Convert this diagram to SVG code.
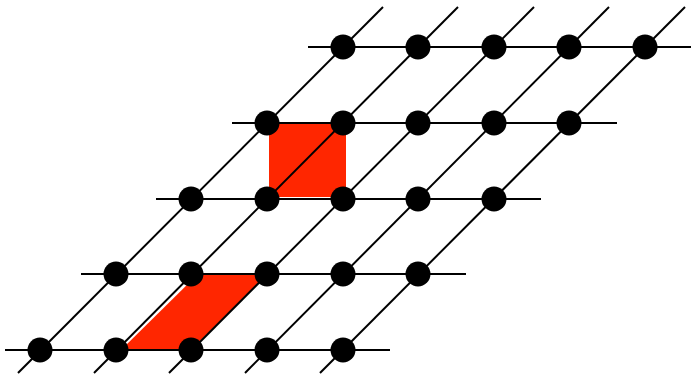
<svg xmlns="http://www.w3.org/2000/svg" width="691" height="375" viewBox="0 0 691 375">
<style>
.ln{stroke:#000;stroke-width:2;fill:none}
.dot{fill:#000}
.red{fill:#ff2600;stroke:none}
</style>
<rect width="691" height="375" fill="#fff"/>
<g id="cells">
<rect class="red" x="269" y="122" width="77" height="75"/>
<polygon class="red" points="122,349 192,349 267,274 198,274"/>
</g>
<g id="connectors">
<line class="ln" x1="5" y1="350" x2="390" y2="350"/>
<line class="ln" x1="81" y1="274" x2="466" y2="274"/>
<line class="ln" x1="156" y1="199" x2="541" y2="199"/>
<line class="ln" x1="232" y1="123" x2="617" y2="123"/>
<line class="ln" x1="308" y1="47" x2="691" y2="47"/>
<line class="ln" x1="18" y1="373" x2="383" y2="7"/>
<line class="ln" x1="94" y1="373" x2="458" y2="7"/>
<line class="ln" x1="169" y1="373" x2="534" y2="7"/>
<line class="ln" x1="245" y1="373" x2="609" y2="7"/>
<line class="ln" x1="320" y1="373" x2="685" y2="7"/>
</g>
<g id="n0_0"><circle class="dot" cx="40" cy="350" r="12.5"/></g>
<g id="n0_1"><circle class="dot" cx="116" cy="350" r="12.5"/></g>
<g id="n0_2"><circle class="dot" cx="191" cy="350" r="12.5"/></g>
<g id="n0_3"><circle class="dot" cx="267" cy="350" r="12.5"/></g>
<g id="n0_4"><circle class="dot" cx="343" cy="350" r="12.5"/></g>
<g id="n1_0"><circle class="dot" cx="116" cy="274" r="12.5"/></g>
<g id="n1_1"><circle class="dot" cx="191" cy="274" r="12.5"/></g>
<g id="n1_2"><circle class="dot" cx="267" cy="274" r="12.5"/></g>
<g id="n1_3"><circle class="dot" cx="343" cy="274" r="12.5"/></g>
<g id="n1_4"><circle class="dot" cx="418" cy="274" r="12.5"/></g>
<g id="n2_0"><circle class="dot" cx="191" cy="199" r="12.5"/></g>
<g id="n2_1"><circle class="dot" cx="267" cy="199" r="12.5"/></g>
<g id="n2_2"><circle class="dot" cx="343" cy="199" r="12.5"/></g>
<g id="n2_3"><circle class="dot" cx="418" cy="199" r="12.5"/></g>
<g id="n2_4"><circle class="dot" cx="494" cy="199" r="12.5"/></g>
<g id="n3_0"><circle class="dot" cx="267" cy="123" r="12.5"/></g>
<g id="n3_1"><circle class="dot" cx="343" cy="123" r="12.5"/></g>
<g id="n3_2"><circle class="dot" cx="418" cy="123" r="12.5"/></g>
<g id="n3_3"><circle class="dot" cx="494" cy="123" r="12.5"/></g>
<g id="n3_4"><circle class="dot" cx="569" cy="123" r="12.5"/></g>
<g id="n4_0"><circle class="dot" cx="343" cy="47" r="12.5"/></g>
<g id="n4_1"><circle class="dot" cx="418" cy="47" r="12.5"/></g>
<g id="n4_2"><circle class="dot" cx="494" cy="47" r="12.5"/></g>
<g id="n4_3"><circle class="dot" cx="569" cy="47" r="12.5"/></g>
<g id="n4_4"><circle class="dot" cx="645" cy="47" r="12.5"/></g>
</svg>
